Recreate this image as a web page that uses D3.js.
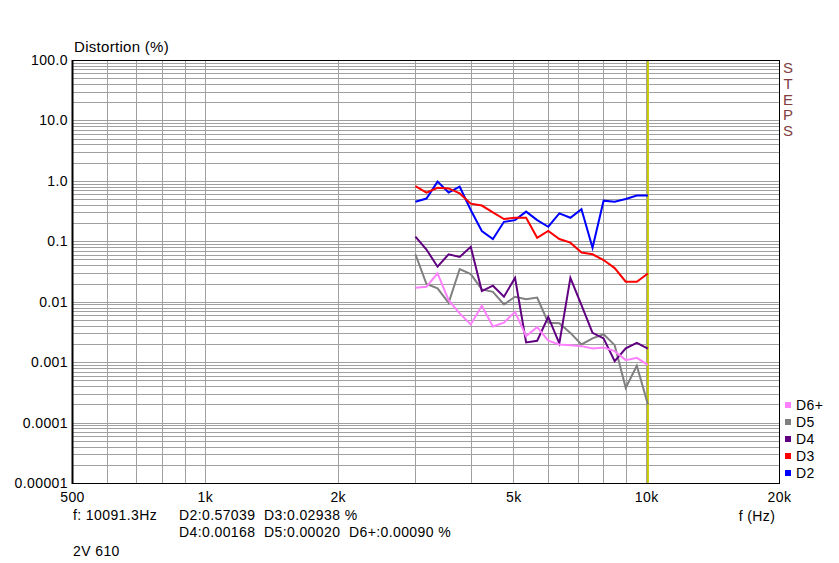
<!DOCTYPE html>
<html><head><meta charset="utf-8">
<script src="https://cdn.jsdelivr.net/npm/d3@7/dist/d3.min.js"></script>
<style>
html,body{margin:0;padding:0;background:#fff;}
svg{display:block;font-family:"Liberation Sans",Arial,sans-serif;}
</style></head>
<body><svg id="c" width="839" height="563"></svg>
<script>
const freqs = [3000,3178.4,3367.4,3567.6,3779.8,4004.5,4242.6,4494.9,4762.2,5045.4,5345.4,5663.2,6000,6356.8,6734.8,7135.2,7559.5,8009.0,8485.3,8989.8,9524.4,10091.3];
const d2 = [0.45,0.51,0.97,0.64,0.80,0.33,0.148,0.109,0.21,0.224,0.31,0.224,0.174,0.29,0.245,0.34,0.078,0.47,0.45,0.50,0.57,0.57039];
const d3v = [0.82,0.64,0.77,0.75,0.62,0.42,0.39,0.30,0.233,0.245,0.245,0.114,0.148,0.109,0.095,0.065,0.061,0.049,0.036,0.0214,0.0214,0.02938];
const d4 = [0.119,0.073,0.038,0.061,0.055,0.081,0.0150,0.0184,0.0121,0.0249,0.00212,0.00226,0.0056,0.00204,0.0249,0.0088,0.00305,0.00247,0.00104,0.00169,0.00209,0.00168];
const d5 = [0.061,0.0196,0.0166,0.0096,0.0347,0.0286,0.0160,0.0146,0.0090,0.0121,0.0110,0.0117,0.0045,0.0044,0.00305,0.00196,0.00247,0.0029,0.00191,0.000376,0.00087,0.00020];
const d6 = [0.017,0.0177,0.0294,0.0106,0.0064,0.0042,0.0086,0.0039,0.0045,0.0068,0.0027,0.0038,0.00226,0.00196,0.00191,0.00184,0.00169,0.00175,0.00152,0.00108,0.00118,0.00090];
const seriesNames = ["D6+","D5","D4","D3","D2"];
const seriesColors = ["#ff80ff","#808080","#600080","#ff0000","#0000ff"];
const xTickValues = [500,1000,2000,5000,10000,20000];
const xTickLabels = ["500","1k","2k","5k","10k","20k"];
const xGridValues = [600,700,800,900,1000,2000,3000,4000,5000,6000,7000,8000,9000,10000];
const yTickValues = [100,10,1,0.1,0.01,0.001,0.0001,0.00001];
const yTickLabels = ["100.0","10.0","1.0","0.1","0.01","0.001","0.0001","0.00001"];
const cursorFreq = 10091.3;
const readout1 = ["f: 10091.3Hz","D2:0.57039  D3:0.02938 %"];
const readout2 = "D4:0.00168  D5:0.00020  D6+:0.00090 %";
const footer = "2V 610";

const L=72, R=779, T=60, B=483;
const FS=14, LS="0.4px";
const svg = d3.select("#c");
const x = d3.scaleLog().domain([500,20000]).range([L,R]);
const y = d3.scaleLog().domain([0.00001,100]).range([B,T]);

const yGrid=[];
for(let e=-5;e<2;e++){for(let m=1;m<=9;m++){const v=m*Math.pow(10,e); if(v>0.00001*1.0001&&v<100*0.999) yGrid.push(v);}}
svg.append("g").selectAll("line").data(yGrid).join("line")
  .attr("x1",L).attr("x2",R)
  .attr("y1",d=>Math.round(y(d))+0.5).attr("y2",d=>Math.round(y(d))+0.5)
  .attr("stroke","#a0a0a0").attr("stroke-width",1).attr("shape-rendering","crispEdges");
svg.append("g").selectAll("line").data(xGridValues).join("line")
  .attr("y1",T).attr("y2",B)
  .attr("x1",d=>Math.round(x(d))+0.5).attr("x2",d=>Math.round(x(d))+0.5)
  .attr("stroke","#a0a0a0").attr("stroke-width",1).attr("shape-rendering","crispEdges");

svg.append("line").attr("x1",x(cursorFreq)).attr("x2",x(cursorFreq)).attr("y1",T).attr("y2",B)
  .attr("stroke","#c8c800").attr("stroke-width",2);

svg.append("rect").attr("x",L+0.5).attr("y",T+0.5).attr("width",R-L).attr("height",B-T)
  .attr("fill","none").attr("stroke","#000").attr("stroke-width",1).attr("shape-rendering","crispEdges");
svg.append("line").attr("x1",L+0.5).attr("x2",L+0.5).attr("y1",T).attr("y2",B+1).attr("stroke","#000").attr("stroke-width",2);

const xAxis = d3.axisBottom(x).tickValues(xTickValues).tickSize(0).tickPadding(6)
  .tickFormat((d,i)=>xTickLabels[i]);
const gx = svg.append("g").attr("transform",`translate(0,${B})`).call(xAxis);
gx.select(".domain").remove();
gx.selectAll("text").attr("font-size",FS).attr("letter-spacing",LS).attr("fill","#000").attr("font-family","Liberation Sans, Arial, sans-serif").attr("dy","0.9em");
const yAxis = d3.axisLeft(y).tickValues(yTickValues).tickSize(0).tickPadding(4)
  .tickFormat((d,i)=>yTickLabels[i]);
const gy = svg.append("g").attr("transform",`translate(${L},0)`).call(yAxis);
gy.select(".domain").remove();
gy.selectAll("text").attr("font-size",FS).attr("letter-spacing",LS).attr("fill","#000").attr("font-family","Liberation Sans, Arial, sans-serif");

const allSeries = [d6,d5,d4,d3v,d2];
const line = d3.line().x((d,i)=>x(freqs[i])).y(d=>y(d));
const drawOrder=[4,3,1,2,0];
drawOrder.forEach(si=>{
  svg.append("path").datum(allSeries[si]).attr("d",line)
    .attr("fill","none").attr("stroke",seriesColors[si]).attr("stroke-width",2).attr("stroke-linejoin","miter");
});

const tx = (xx,yy,s,anchor)=>svg.append("text").attr("x",xx).attr("y",yy).attr("font-size",FS)
  .attr("letter-spacing",LS).attr("text-anchor",anchor||"start").style("white-space","pre").text(s);
svg.append("text").attr("x",74).attr("y",52).attr("font-size",15).attr("letter-spacing","0.3px").text("Distortion (%)");
tx(757,521,"f (Hz)","middle");
tx(73,520,readout1[0]);
tx(179,520,readout1[1]);
tx(179,537,readout2);
tx(73,556,footer);

const steps = ["S","T","E","P","S"];
svg.append("g").selectAll("text").data(steps).join("text")
  .attr("x",788).attr("y",(d,i)=>73+i*15.8).attr("text-anchor","middle")
  .attr("font-size",15).attr("font-weight",300).attr("fill","#804040").text(d=>d);

const lg = svg.append("g");
seriesNames.forEach((n,i)=>{
  const cy=405+i*17;
  lg.append("rect").attr("x",785).attr("y",cy-3).attr("width",6).attr("height",6).attr("fill",seriesColors[i]);
  lg.append("text").attr("x",796).attr("y",cy+5).attr("font-size",FS).attr("letter-spacing",LS).text(n);
});
</script></body></html>
